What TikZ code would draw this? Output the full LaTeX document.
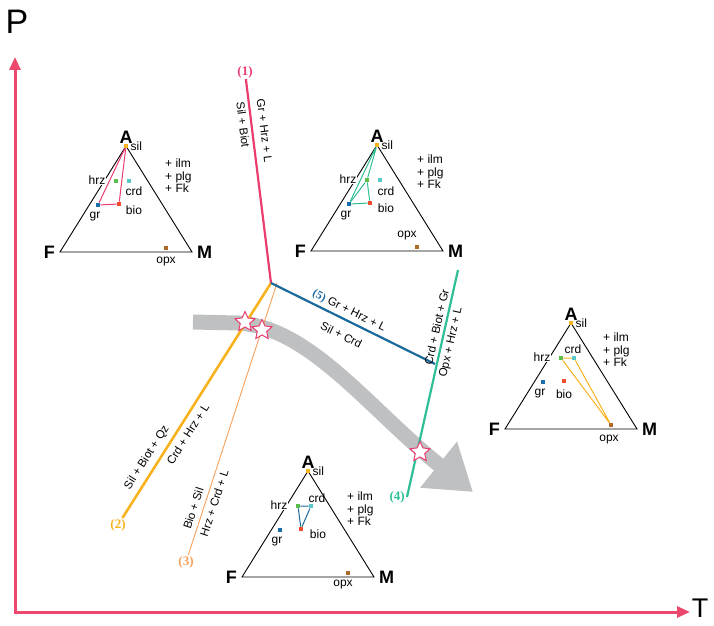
\documentclass[tikz,border=0pt]{standalone}
\usepackage{fontspec}
\usepackage{xcolor}
\usepackage{tikz}
\setmainfont{Liberation Sans}
\newfontfamily\numfont{Liberation Serif}
\usetikzlibrary{shapes.geometric, arrows.meta, positioning}

\definecolor{axisred}{RGB}{236,72,110}
\definecolor{lineone}{RGB}{235,60,110}
\definecolor{linetwo}{RGB}{247,178,30}
\definecolor{linethree}{RGB}{246,160,90}
\definecolor{linefour}{RGB}{48,190,150}
\definecolor{linefive}{RGB}{25,105,155}
\definecolor{silc}{RGB}{247,180,30}
\definecolor{hrzc}{RGB}{90,190,75}
\definecolor{crdc}{RGB}{90,200,200}
\definecolor{grc}{RGB}{25,110,170}
\definecolor{bioc}{RGB}{240,75,45}
\definecolor{opxc}{RGB}{175,105,40}
\definecolor{pathgray}{RGB}{190,192,194}

\tikzset{
  corner/.style={font=\fontsize{18}{18}\selectfont\bfseries, inner sep=1pt},
  minlbl/.style={font=\fontsize{12}{12.5}\selectfont, inner sep=0pt},
  dot/.style={fill=#1, rectangle, minimum size=4.5pt, inner sep=0pt},
  rxn/.style={font=\fontsize{11.5}{11.5}\selectfont, text=black, sloped, inner sep=3pt},
  numlbl/.style={font=\numfont\fontsize{13}{13}\selectfont\bfseries, text=#1, inner sep=1pt},
  tie/.style={#1, line width=1pt},
  starmark/.style={star, star points=5, star point ratio=2.1, draw=lineone, fill=white,
    line width=1pt, minimum size=21pt, inner sep=0pt},
  axis/.style={axisred, line width=3pt},
}

% AFM triangle: name, apex, crd / bio / opx label shifts, shift of the extra phases
\newcommand{\afmdiagram}[6]{%
  \begin{scope}[shift={(#2)}]
    \coordinate (#1A) at (0,0);
    \coordinate (#1F) at (-66,-106);
    \coordinate (#1M) at (66,-106);
    \draw[line width=0.9pt] (#1A) -- (#1F) -- (#1M) -- cycle;
    \node[corner, above=1pt of #1A] {A};
    \node[corner, left=4pt of #1F] {F};
    \node[corner, right=4pt of #1M] {M};
    \node[dot=silc] (#1sil) at (0,0) {};
    \node[dot=hrzc] (#1hrz) at (-10,-35) {};
    \node[dot=crdc] (#1crd) at (3,-35) {};
    \node[dot=grc] (#1gr) at (-28,-59) {};
    \node[dot=bioc] (#1bio) at (-7,-58) {};
    \node[dot=opxc] (#1opx) at (40,-102) {};
    \node[minlbl, anchor=west] at ([xshift=2pt]#1sil.east) {sil};
    \node[minlbl, fill=white, inner sep=1pt] at ([shift={(-19,1)}]#1hrz) {hrz};
    \node[minlbl] at ([shift={(#3)}]#1crd) {crd};
    \node[minlbl] at ([shift={(#4)}]#1bio) {bio};
    \node[minlbl] at ([shift={(-3,-12)}]#1gr) {gr};
    \node[minlbl] at ([shift={(#5)}]#1opx) {opx};
    \node[minlbl, align=left, anchor=west] at (#6) {+ ilm\\+ plg\\+ Fk};
  \end{scope}}

\begin{document}
\begin{tikzpicture}[x=1pt, y=1pt]
    \useasboundingbox (0,0) rectangle (714,625);

    % axes
    \coordinate (O) at (15,13);
    \coordinate (ytop) at (15,568);
    \coordinate (xend) at (690,13);
    \draw[axis, {Triangle[length=13pt,width=11pt]}-{Triangle[length=13pt,width=11pt]}]
        (ytop) -- (O) -- (xend);
    \node[font=\fontsize{34}{34}\selectfont, inner sep=0pt] (P) at (17,603) {P};
    \node[font=\fontsize{27}{27}\selectfont, inner sep=0pt] (T) at (700,17) {T};

    % P-T path
    \draw[pathgray, line width=15pt, -{Triangle[length=44pt,width=56pt]}]
        (193,303) -- (238,302) .. controls (310,298) and (370,215) .. (473,133);

    % reaction lines
    \coordinate (I) at (271,342);
    \coordinate (I3) at (277,342);
    \node[numlbl=lineone] (n1) at (245,553) {(1)};
    \node[numlbl=linetwo] (n2) at (118,100) {(2)};
    \node[numlbl=linethree] (n3) at (186,63) {(3)};
    \coordinate (e4) at (407,128);
    \coordinate (t4) at (458,355);
    \node[numlbl=linefour, left=1pt of e4] (n4) {(4)};
    \coordinate (e5) at (435,261);

    \draw[linetwo, line width=2.6pt] (n2) -- (I)
        node[rxn, pos=0.23, above, inner sep=5pt] {Sil + Biot + Qz}
        node[rxn, pos=0.38, below, inner sep=5pt] {Crd + Hrz + L};
    \draw[linethree, line width=0.9pt] (n3) -- (I3)
        node[rxn, pos=0.16, above, inner sep=5pt] {Bio + Sil}
        node[rxn, pos=0.2, below, inner sep=4pt] {Hrz + Crd + L};
    \draw[lineone, line width=2.2pt] (n1) -- (I)
        node[rxn, pos=0.26, above, inner sep=7pt] {Gr + Hrz + L}
        node[rxn, pos=0.22, below] {Sil + Biot};
    \draw[linefive, line width=2.2pt] (I) -- (e5)
        node[rxn, pos=0.45, above] {\textcolor{linefive}{\numfont\bfseries(5)} Gr + Hrz + L}
        node[rxn, pos=0.47, below, inner sep=10pt] {Sil + Crd};
    \draw[linefour, line width=2.2pt] (e4) -- (t4)
        node[rxn, pos=0.74, above] {Crd + Biot + Gr}
        node[rxn, pos=0.69, below] {Opx + Hrz + L};

    \node[starmark] (s1) at (245,303) {};
    \node[starmark] (s2) at (262,295) {};
    \node[starmark] (s3) at (420,173) {};

    % AFM diagrams
    \afmdiagram{ta}{126,479}{5,-10}{15,-6}{0,-14}{39,-30}
    \afmdiagram{tb}{377,480}{6,-11}{16,-5}{-10,11}{40,-27}
    \afmdiagram{tc}{571,302}{-1,9}{0,-13}{-2,-15}{32,-27}
    \afmdiagram{td}{308,154}{6,8}{17,-5}{-5,-12}{39,-38}

    \draw[tie=lineone] (tasil) -- (tagr) -- (tabio) -- (tasil);
    \draw[tie=linefour] (tbsil) -- (tbgr) -- (tbbio) -- (tbhrz) -- (tbsil);
    \draw[tie=linefour] (tbgr) -- (tbhrz);
    \draw[tie=linetwo] (tchrz) -- (tccrd) -- (tcopx) -- (tchrz);
    \draw[tie=linefive] (tdhrz) -- (tdcrd) -- (tdbio) -- (tdhrz);
\end{tikzpicture}
\end{document}
